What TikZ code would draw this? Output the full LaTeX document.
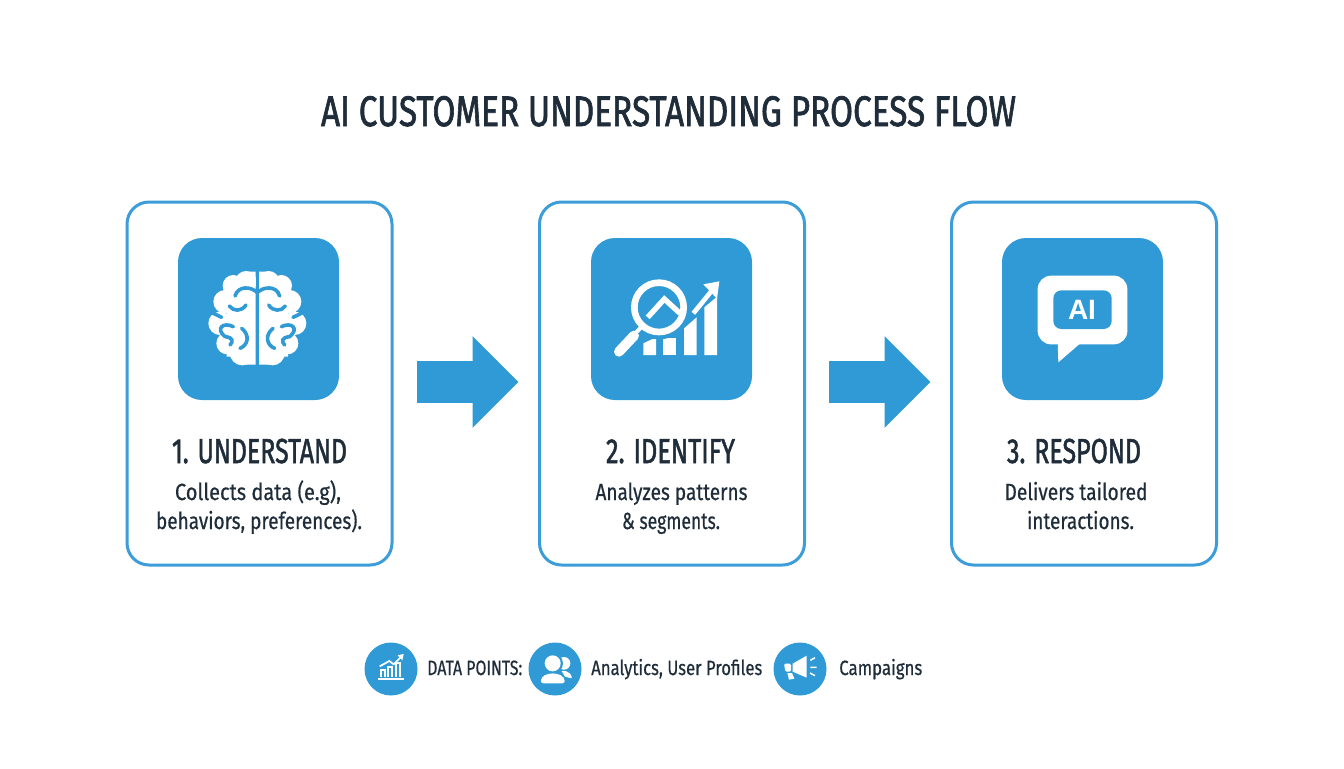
\documentclass[tikz,border=0pt]{standalone}
\usepackage{fontspec}
\usepackage{graphicx}
\usetikzlibrary{arrows.meta}
\setmainfont{Fira Sans}
\newfontfamily\titlefont[FakeBold=1.8]{Fira Sans}
\newfontfamily\labelfont[FakeBold=0.6]{Fira Sans}
\newfontfamily\aifont{Liberation Sans}
\definecolor{bluemain}{HTML}{2F9AD6}
\definecolor{panelline}{HTML}{3C9DD8}
\definecolor{inkdark}{HTML}{1F2D3A}
\newsavebox\fitbox
\newcommand\fitw[2]{\sbox\fitbox{#2}\pgfmathsetmacro\fitr{#1*0.75/\the\wd\fitbox}\scalebox{\fitr}[1]{\usebox\fitbox}}
\newcommand\brainhalf{%
  \fill[white] (228,155) circle (32) (190,167) circle (32) (165,215) circle (35) (150,280) circle (35)
     (172,340) circle (33) (217,368) circle (38);
  \fill[white] (170,160) rectangle (257,380) (225,125) rectangle (257,404);
  \draw[iconcut] (195,198) .. controls (205,165) and (245,170) .. (262,188);
  \draw[iconcut] (178,228) .. controls (190,245) and (215,245) .. (228,225);
  \draw[iconcut] (126,248) -- (155,262);
  \draw[iconcut] (190,290) .. controls (160,275) and (135,295) .. (165,320);
  \draw[iconcut] (165,320) .. controls (190,322) and (190,335) .. (180,345);
  \draw[iconcut] (215,295) .. controls (240,315) and (235,345) .. (210,355);
}
\tikzset{
  panel/.style={draw=panelline,line width=2.25pt,fill=white,rounded corners=16.5pt,minimum width=198.75pt,minimum height=272.25pt,inner sep=0pt,outer sep=0pt},
  iconbox/.style={fill=bluemain,rounded corners=18pt,minimum width=120.75pt,minimum height=121.5pt,inner sep=0pt,outer sep=0pt},
  badge/.style={circle,fill=bluemain,minimum size=39.75pt,inner sep=0pt,outer sep=0pt},
  flow/.style={draw=bluemain,line width=31pt,-{Triangle[length=34.5pt,width=66.75pt,inset=0pt]}},
  head/.style={anchor=base,text=inkdark,font=\titlefont\fontsize{26}{30}\selectfont,inner sep=0pt},
  body/.style={anchor=base,text=inkdark,font=\labelfont\fontsize{17.5}{21}\selectfont,inner sep=0pt},
  foot/.style={anchor=base west,text=inkdark,font=\labelfont\fontsize{15.5}{19}\selectfont,inner sep=0pt},
  iconcut/.style={draw=bluemain,line width=2.7pt,line cap=round},
}
\begin{document}
\begin{tikzpicture}[x=0.75pt,y=-0.75pt]
\useasboundingbox (0,0) rectangle (1344,768);
\fill[white] (0,0) rectangle (1344,768);
\node[anchor=base,text=inkdark,font=\titlefont\fontsize{32}{36}\selectfont,inner sep=0pt] (title) at (668.5,126) {\fitw{695}{AI CUSTOMER UNDERSTANDING PROCESS FLOW}};

\node[panel] (p1) at (259.5,383.5) {};
\node[panel] (p2) at (672,383.5) {};
\node[panel] (p3) at (1084,383.5) {};
\node[iconbox] (b1) at (258.5,319) {};
\node[iconbox] (b2) at (671.5,319) {};
\node[iconbox] (b3) at (1082.5,319) {};

\coordinate (a1s) at ([xshift=18.75pt,yshift=1.1pt]p1.east);
\coordinate (a1e) at ([xshift=-15.75pt,yshift=1.1pt]p2.west);
\coordinate (a2s) at ([xshift=18pt,yshift=1.1pt]p2.east);
\coordinate (a2e) at ([xshift=-15.75pt,yshift=1.1pt]p3.west);
\draw[flow] (a1s) -- (a1e);
\draw[flow] (a2s) -- (a2e);

% brain
\begin{scope}[shift={(170,230)},x=0.25pt,y=-0.25pt]\brainhalf\end{scope}
\begin{scope}[shift={(344.67,230)},x=-0.25pt,y=-0.25pt]\brainhalf\end{scope}
\begin{scope}[shift={(170,230)},x=0.25pt,y=-0.25pt]
  \draw[iconcut,line cap=butt] (262,120) -- (262,412);
\end{scope}

% magnifier + chart
\begin{scope}[shift={(585,230)},x=0.25pt,y=-0.25pt]
  \fill[white] (175,340) -- (213,322) -- (213,375) -- (175,375) -- cycle;
  \fill[white] (235,325) -- (273,325) -- (273,375) -- (235,375) -- cycle;
  \fill[white] (297,295) -- (335,262) -- (335,375) -- (297,375) -- cycle;
  \fill[white] (358,232) -- (396,200) -- (396,375) -- (358,375) -- cycle;
  \fill[bluemain] (222,232) circle (96);
  \draw[white,line width=3.5pt,line cap=butt] (325,250) -- (382,180);
  \fill[white] (403,154) -- (355,163) -- (396,206) -- cycle;
  \draw[white,line width=5pt] (222,232) circle (74);
  \draw[white,line width=4pt,line join=miter] (188,262) -- (238,207) -- (285,250);
  \draw[white,line width=3pt] (168,292) -- (140,322);
  \draw[white,line width=7.5pt,line cap=round] (147,317) -- (102,365);
\end{scope}

% AI bubble
\begin{scope}[shift={(995,230)},x=0.25pt,y=-0.25pt]
  \fill[white,rounded corners=10pt] (128,137) rectangle (397,343);
  \fill[white] (188,335) -- (190,397) -- (256,340) -- cycle;
  \fill[bluemain,rounded corners=6pt] (175,181) rectangle (350,297);
\end{scope}
\node[text=white,inner sep=0pt,font=\aifont\bfseries\fontsize{21}{24}\selectfont] (ailabel) at (1082,310) {AI};

\node[head] (h1) at (259.5,463) {\fitw{175}{1. UNDERSTAND}};
\node[head] (h2) at (670.5,463) {\fitw{129}{2. IDENTIFY}};
\node[head] (h3) at (1074,463) {\fitw{134}{3. RESPOND}};
\node[body] (d1a) at (258,500) {\fitw{166}{Collects data (e.g),}};
\node[body] (d1b) at (259,529) {\fitw{206}{behaviors, preferences).}};
\node[body] (d2a) at (671.5,500) {\fitw{152}{Analyzes patterns}};
\node[body] (d2b) at (671,529) {\fitw{98}{\& segments.}};
\node[body] (d3a) at (1076,500) {\fitw{143}{Delivers tailored}};
\node[body] (d3b) at (1080.5,529) {\fitw{107}{interactions.}};

\node[badge] (c1) at (391,669) {};
\node[badge] (c2) at (555,669) {};
\node[badge] (c3) at (800,669) {};

% small chart
\begin{scope}[shift={(355,635)},x=0.25pt,y=-0.25pt]
  \draw[white,line width=1.3pt] (70,131) -- (146,131);
  \draw[white,line width=1.3pt] (78,125) |- (90,105) -- (90,125);
  \draw[white,line width=1.3pt] (100,125) |- (111,96) -- (111,125);
  \draw[white,line width=1.3pt] (122,125) |- (134,85) -- (134,125);
  \draw[white,line width=1.3pt] (74,94) -- (103,78) -- (116,88) -- (138,66);
  \fill[white] (146,57) -- (128,61) -- (142,76) -- cycle;
\end{scope}
% users
\begin{scope}[shift={(355,635)},x=0.25pt,y=-0.25pt]
  \fill[white] (627,85) circle (19);
  \fill[white] (620,108) .. controls (645,105) and (652,125) .. (650,130) -- (630,125) -- cycle;
  \fill[bluemain] (593,85) circle (31);
  \fill[white] (593,85) circle (24);
  \fill[bluemain] (548,152) .. controls (550,105) and (638,100) .. (640,152) -- cycle;
  \fill[white,rounded corners=2pt] (557,145) .. controls (560,108) and (626,108) .. (630,145) -- cycle;
\end{scope}
% megaphone
\begin{scope}[shift={(590,635)},x=0.25pt,y=-0.25pt]
  \fill[white] (608,86) -- (650,62) -- (650,128) -- (608,110) -- cycle;
  \fill[white,rounded corners=1pt] (582,86) -- (603,86) -- (603,110) -- (586,110) -- cycle;
  \fill[white] (592,114) -- (606,114) -- (613,131) -- (597,134) -- cycle;
  \draw[white,line width=1.1pt] (661,76) -- (675,68) (661,97) -- (680,97) (660,114) -- (675,122);
\end{scope}

\node[foot] (f1) at (427,675) {\fitw{95}{DATA POINTS:}};
\node[foot] (f2) at (591,675) {\fitw{171}{Analytics, User Profiles}};
\node[foot] (f3) at (839,675) {\fitw{83}{Campaigns}};
\end{tikzpicture}
\end{document}
